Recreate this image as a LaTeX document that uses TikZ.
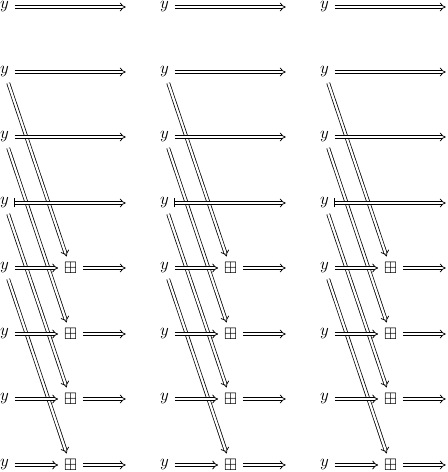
\documentclass[tikz,border=0pt]{standalone}
\usepackage{amssymb}
\usetikzlibrary{arrows.meta}
\tikzset{
  cell/.style={inner sep=0.333em},
  dbl/.style={double, double distance=1.35pt, line width=0.45pt, -Implies},
  barmark/.style={line width=0.45pt}
}
\begin{document}
\begin{tikzpicture}[x=0.6pt,y=-0.6pt]
\useasboundingbox (0,0) rectangle (447,472);
\foreach \b in {0,1,2}{
  \pgfmathsetmacro{\ox}{160*\b}
  \foreach \i/\ry in {1/7,2/72,3/137,4/203,5/268,6/334,7/399,8/465}{
    \node[cell] (y\b-\i) at (\ox+4.5,\ry) {$y$};
    \node[cell] (e\b-\i) at (\ox+131.6,\ry) {};
  }
  \foreach \i/\ry in {5/268,6/334,7/399,8/465}{
    \node[cell] (s\b-\i) at (\ox+70.5,\ry) {$\boxplus$};
  }
  % diagonal arrows
  \foreach \i/\j in {2/5,3/6,4/7,5/8}{
    \draw[dbl] (y\b-\i) -- (s\b-\j);
  }
  % horizontal arrows
  \draw[dbl] (y\b-1) -- (e\b-1);
  \draw[dbl] (y\b-2) -- (e\b-2);
  \draw[dbl] (y\b-3) -- (e\b-3);
  \draw[dbl] (y\b-4) -- (e\b-4);
  \draw[barmark] ([yshift=-2.7pt]y\b-4.east) -- ([yshift=2.7pt]y\b-4.east);
  \foreach \i in {5,...,8}{
    \draw[dbl] (y\b-\i) -- (s\b-\i);
    \draw[dbl] (s\b-\i) -- (e\b-\i);
  }
}
\end{tikzpicture}
\end{document}
